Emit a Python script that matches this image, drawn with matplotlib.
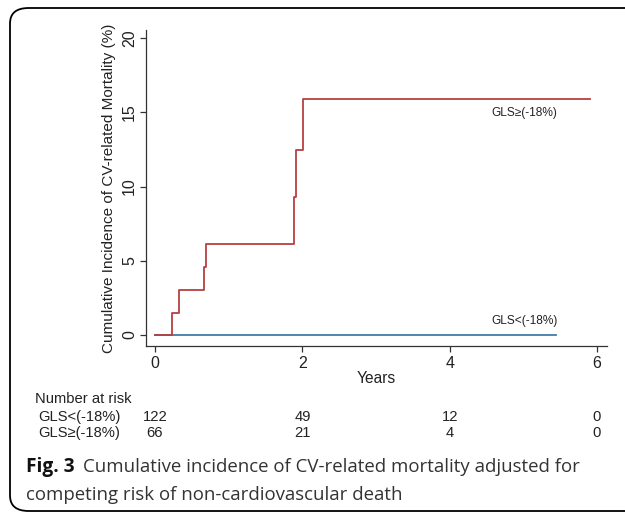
import matplotlib.pyplot as plt
from matplotlib.patches import FancyBboxPatch
from matplotlib.transforms import blended_transform_factory

# Kurven (Jahre, kumulative Inzidenz in %)
t_high = [0, 0.235, 0.326, 0.665, 0.69, 1.89, 1.91, 2.01, 5.91]
ci_high = [0, 1.5, 3.05, 4.6, 6.15, 9.3, 12.45, 15.9, 15.9]
t_low = [0, 5.44]
ci_low = [0, 0]

# Number at risk
risk_times = [0, 2, 4, 6]
risk_low = [122, 49, 12, 0]
risk_high = [66, 21, 4, 0]
group_names = ['GLS<(-18%)', 'GLS≥(-18%)']

red = '#b5403f'
blue = '#3f7ea6'
plt.rcParams['font.family'] = ['Liberation Sans', 'DejaVu Sans']

fig = plt.figure(figsize=(6.25, 5.15), dpi=100)
ax = fig.add_axes([146/625, 1 - 346/515, (607-146)/625, (346-30)/515])

ax.step(t_low, ci_low, where='post', color=blue, lw=1.3)
ax.step(t_high, ci_high, where='post', color=red, lw=1.3)

ax.text(5.01, 14.95, 'GLS≥(-18%)', fontsize=8.6, ha='center', va='center', color='#222222')
ax.text(5.01, 0.95, 'GLS<(-18%)', fontsize=8.6, ha='center', va='center', color='#222222')

ax.set_xlim(-0.122, 6.135)
ax.set_ylim(-0.74, 20.54)
ax.set_xticks([0, 2, 4, 6])
ax.set_yticks([0, 5, 10, 15, 20])
ax.spines['top'].set_visible(False)
ax.spines['right'].set_visible(False)
for s in ['left', 'bottom']:
    ax.spines[s].set_color('#333333')
    ax.spines[s].set_linewidth(0.9)
ax.tick_params(direction='out', length=4, width=0.9, color='#333333', labelsize=11.5, labelcolor='#222222')
ax.tick_params(axis='y', pad=2.5)
for lab in ax.get_yticklabels():
    lab.set_rotation(90)
    lab.set_va('center')
ax.set_xlabel('Years', fontsize=11.2, labelpad=0, color='#222222')
ax.set_ylabel('Cumulative Incidence of CV-related Mortality (%)', fontsize=11, labelpad=4, color='#222222')

# Tabelle unter dem Plot
tr = blended_transform_factory(ax.transData, fig.transFigure)
fig.text(35/625, 1 - 399/515, 'Number at risk', fontsize=10.6, va='center', color='#222222')
rows_y = [1 - 417/515, 1 - 433/515]
for name, vals, yy in zip(group_names, [risk_low, risk_high], rows_y):
    fig.text(38/625, yy, name, fontsize=10.6, va='center', color='#222222')
    for t, v in zip(risk_times, vals):
        ax.text(t, yy, str(v), transform=tr, fontsize=10.6, ha='center', va='center', color='#222222')

# Bildunterschrift
fig.text(26/625, 1 - 467/515, 'Fig. 3', fontsize=13.8, fontweight='bold', family='Open Sans',
         va='center', color='#111111')
fig.text(83/625, 1 - 467/515, 'Cumulative incidence of CV-related mortality adjusted for',
         fontsize=13.4, family='Open Sans', va='center', color='#333333')
fig.text(26/625, 1 - 495/515, 'competing risk of non-cardiovascular death',
         fontsize=13.4, family='Open Sans', va='center', color='#333333')

frame = FancyBboxPatch((10/625, 4/515), 640/625, (507-4)/515, boxstyle='round,pad=0,rounding_size=0.03',
                       transform=fig.transFigure, fill=False, ec='black', lw=1.3, clip_on=False)
fig.patches.append(frame)

fig.savefig('out.png', dpi=100)
